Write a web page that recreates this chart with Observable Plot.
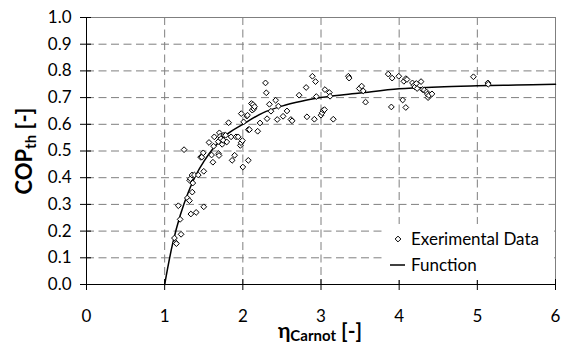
<!DOCTYPE html>
<html>
<head>
<meta charset="utf-8">
<script src="https://cdn.jsdelivr.net/npm/d3@7"></script>
<script src="https://cdn.jsdelivr.net/npm/@observablehq/plot@0.6"></script>
<style>
  html, body { margin: 0; padding: 0; background: #fff; }
  #chart svg { display: block; }
</style>
</head>
<body>
<div id="chart"></div>
<script>
// Experimental data (eta_Carnot, COP_th)
const expX = [
  1.125,1.14,1.15,1.175,1.198,1.21,1.248,1.29,1.317,1.32,
  1.33,1.335,1.353,1.35,1.38,1.36,1.403,1.43,1.46,1.475,
  1.494,1.5,1.5,1.567,1.6,1.617,1.626,1.635,1.69,1.695,
  1.686,1.7,1.71,1.72,1.736,1.75,1.76,1.78,1.795,1.818,
  1.85,1.863,1.895,1.913,1.94,1.968,1.977,1.995,1.98,2.0,
  2.01,2.05,2.06,2.07,2.085,2.07,2.11,2.13,2.12,2.14,
  2.15,2.19,2.22,2.29,2.30,2.31,2.34,2.36,2.42,2.44,
  2.455,2.515,2.565,2.615,2.63,2.72,2.81,2.82,2.89,2.93,
  2.915,2.94,3.0,3.015,3.03,3.045,3.05,3.107,3.116,3.157,
  3.35,3.36,3.49,3.52,3.54,3.57,3.86,3.90,3.91,3.995,
  4.045,4.06,4.085,4.10,4.085,4.17,4.19,4.2,4.22,4.23,
  4.28,4.3,4.32,4.35,4.36,4.37,4.38,4.42,4.95,5.135,5.14
];
const expY = [
  0.174,0.157,0.153,0.295,0.244,0.188,0.505,0.324,0.314,0.39,
  0.396,0.264,0.346,0.41,0.41,0.38,0.27,0.41,0.477,0.477,
  0.493,0.424,0.291,0.532,0.485,0.458,0.518,0.553,0.49,0.483,
  0.535,0.568,0.555,0.546,0.525,0.54,0.559,0.559,0.534,0.606,
  0.553,0.465,0.484,0.553,0.553,0.521,0.531,0.539,0.64,0.44,
  0.609,0.631,0.634,0.58,0.58,0.465,0.678,0.674,0.653,0.658,
  0.666,0.574,0.605,0.755,0.718,0.621,0.675,0.649,0.69,0.618,
  0.668,0.63,0.65,0.618,0.613,0.709,0.738,0.628,0.78,0.76,
  0.619,0.704,0.634,0.643,0.653,0.655,0.73,0.719,0.705,0.619,
  0.78,0.773,0.734,0.743,0.725,0.683,0.788,0.665,0.773,0.78,
  0.691,0.761,0.771,0.768,0.663,0.755,0.746,0.74,0.753,0.734,
  0.76,0.73,0.728,0.721,0.713,0.70,0.708,0.714,0.778,0.755,0.75
];
// Function curve
const funcX = [1.0,1.1,1.2,1.3,1.4,1.5,1.6,1.8,2.0,2.25,2.5,2.75,3.0,3.5,4.0,4.5,5.0,5.5,6.0];
const funcY = [0.0,0.15,0.26,0.344,0.41,0.46,0.502,0.563,0.60,0.642,0.668,0.686,0.70,0.717,0.733,0.74,0.744,0.747,0.75];
const xTicks = [0,1,2,3,4,5,6];
const yTicks = [0,0.1,0.2,0.3,0.4,0.5,0.6,0.7,0.8,0.9,1.0];
const seriesNames = ["Exerimental Data", "Function"];

const expData = expX.map((x, i) => ({x, y: expY[i]}));
const funcData = funcX.map((x, i) => ({x, y: funcY[i]}));

const FONT = "Lato, 'DejaVu Sans', sans-serif";
const gridColor = "#7f7f7f";
const dash = "8,4.5";
const dotR = 2.6;

const chart = Plot.plot({
  width: 561,
  height: 343,
  marginLeft: 86,
  marginRight: 6,
  marginTop: 17,
  marginBottom: 59,
  style: {fontFamily: FONT, fontSize: "17px", color: "#000", background: "#fff", overflow: "visible"},
  x: {domain: [0, 6], label: null},
  y: {domain: [0, 1], label: null},
  marks: [
    Plot.ruleY(yTicks.filter(d => d > 0 && d < 1), {y: d => d, stroke: gridColor, strokeDasharray: dash}),
    Plot.ruleX(xTicks.filter(d => d > 0 && d < 6), {x: d => d, stroke: gridColor, strokeDasharray: dash}),
    Plot.ruleY([1], {y: d => d, stroke: gridColor}),
    Plot.ruleX([6], {x: d => d, stroke: gridColor}),
    Plot.line(funcData, {x: "x", y: "y", curve: "catmull-rom", stroke: "#000", strokeWidth: 1.5}),
    Plot.dot(expData, {x: "x", y: "y", symbol: "diamond2", r: dotR, stroke: "#000", fill: "#fff", strokeWidth: 1}),
    Plot.ruleY([0], {y: d => d, stroke: "#000"}),
    Plot.ruleX([0], {x: d => d, stroke: "#000"}),
    Plot.axisX({ticks: xTicks, tickFormat: d3.format("d"), tickSize: 11, dy: -5, tickPadding: 19, label: null}),
    Plot.axisY({ticks: yTicks, tickFormat: d3.format(".1f"), tickSize: 11, dx: 5, tickPadding: 9, label: null})
  ]
});

const svg = d3.select(chart);

// Legend
const lg = svg.append("g").attr("font-family", FONT).attr("font-size", 17).attr("text-anchor", "start");
lg.append("rect").attr("x", 386).attr("y", 224).attr("width", 168).attr("height", 56).attr("fill", "#fff");
lg.append("path").attr("d", d3.symbol(d3.symbolDiamond2, Math.PI * dotR * dotR)())
  .attr("transform", "translate(398,239)").attr("fill", "#fff").attr("stroke", "#000").attr("stroke-width", 1);
lg.append("text").attr("x", 411).attr("y", 239).attr("dy", "0.35em").attr("text-anchor", "start").text(seriesNames[0]);
lg.append("line").attr("x1", 390).attr("x2", 405).attr("y1", 265).attr("y2", 265).attr("stroke", "#000").attr("stroke-width", 1.5);
lg.append("text").attr("x", 411).attr("y", 265).attr("dy", "0.35em").attr("text-anchor", "start").text(seriesNames[1]);

// X axis title
const xt = svg.append("text").attr("x", 320).attr("y", 338).attr("text-anchor", "middle")
  .attr("font-family", FONT).attr("font-weight", "bold").attr("font-size", 21);
xt.append("tspan").text("η");
xt.append("tspan").attr("font-size", 15).attr("dy", 3).text("Carnot");
xt.append("tspan").attr("dy", -3).text(" [-]");

// Y axis title
const yt = svg.append("text").attr("transform", "translate(31.5,151) rotate(-90)").attr("text-anchor", "middle")
  .attr("font-family", FONT).attr("font-weight", "bold").attr("font-size", 22);
yt.append("tspan").text("COP");
yt.append("tspan").attr("font-size", 15).attr("dy", 4).text("th");
yt.append("tspan").attr("dy", -4).text(" [-]");

document.getElementById("chart").appendChild(chart);
</script>
</body>
</html>
